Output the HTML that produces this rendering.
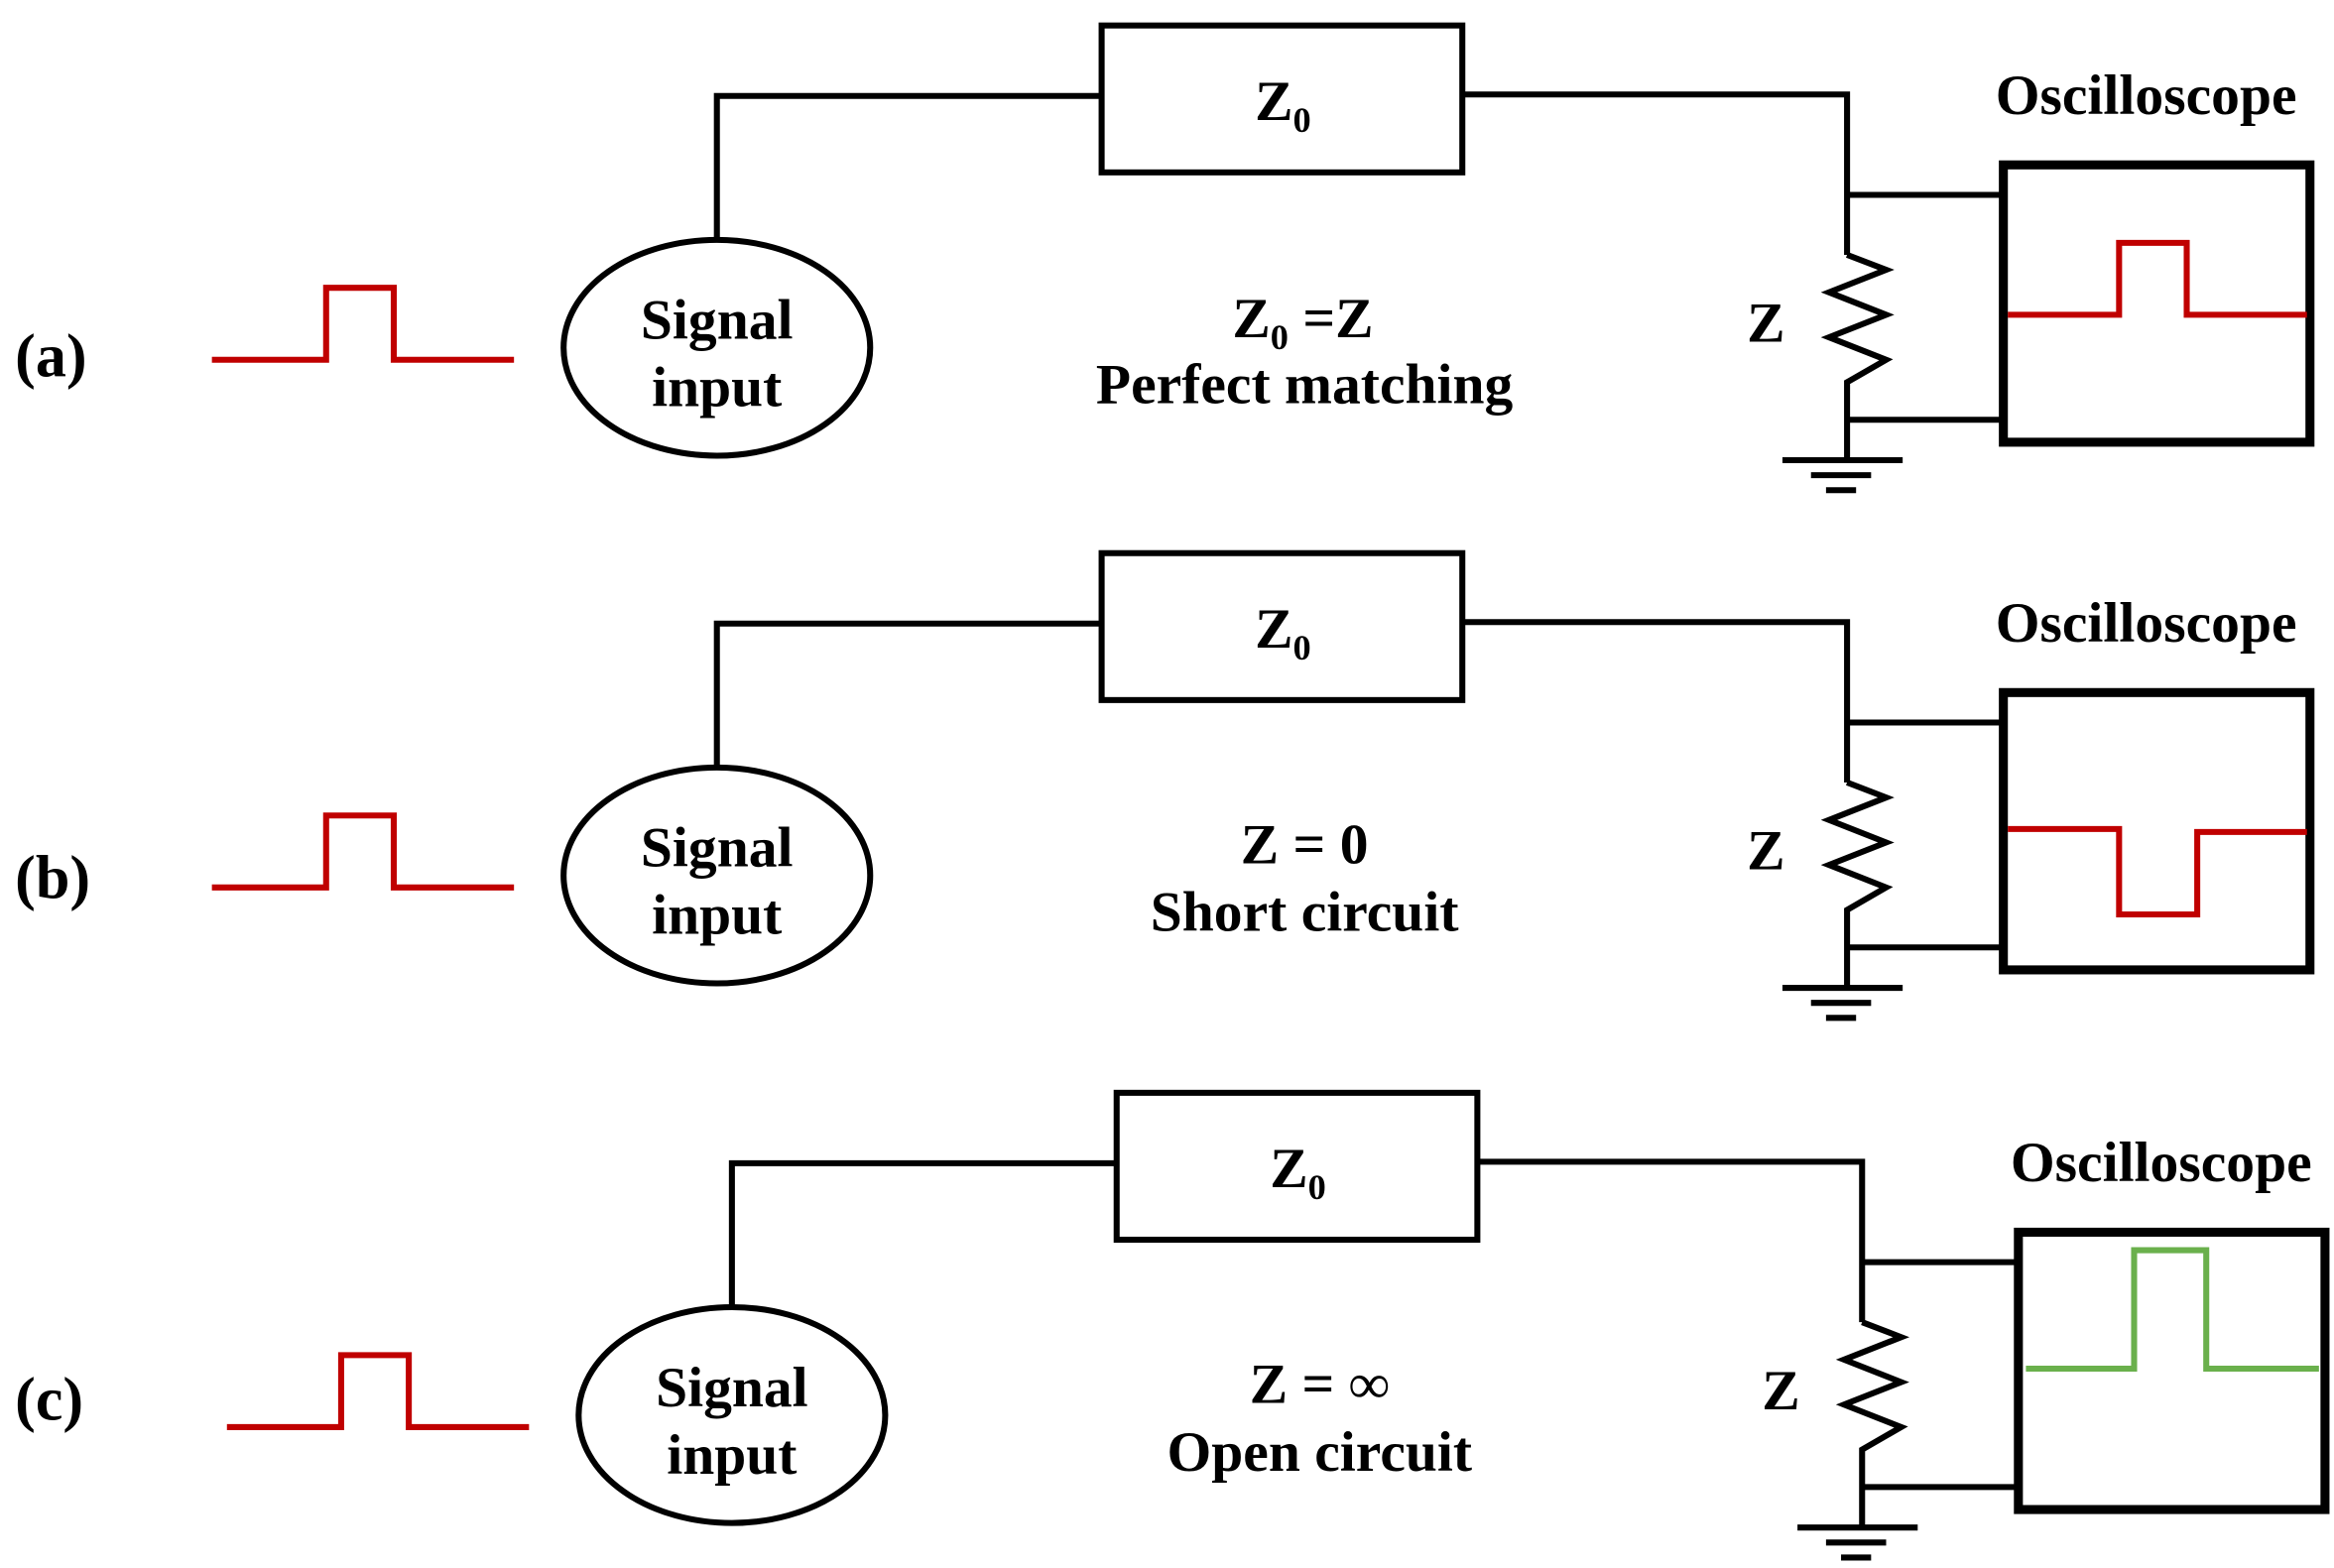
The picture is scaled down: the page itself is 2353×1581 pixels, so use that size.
<!DOCTYPE html>
<html><head><meta charset="utf-8"><style>
html,body{margin:0;padding:0;background:#fff;}
svg{display:block;}
text{font-family:"Liberation Serif",serif;font-weight:bold;fill:#000;}
</style></head><body>
<svg width="2353" height="1581" viewBox="0 0 1553 1046" preserveAspectRatio="none" xmlns="http://www.w3.org/2000/svg">
<defs>
<g id="circ" fill="none" stroke="#000">
  <polyline points="477,160 477,64 733,64" stroke-width="4"/>
  <rect x="733" y="17" width="240" height="98" stroke-width="4"/>
  <polyline points="973,63 1229,63 1229,170" stroke-width="4"/>
  <line x1="1229" y1="130" x2="1333" y2="130" stroke-width="4"/>
  <polyline points="1229,170 1255,180 1217,195 1255,210 1217,225 1255,240 1229,255 1229,307" stroke-width="4"/>
  <line x1="1229" y1="280" x2="1333" y2="280" stroke-width="4"/>
  <line x1="1186" y1="307" x2="1266" y2="307" stroke-width="4"/>
  <line x1="1205" y1="317" x2="1245" y2="317" stroke-width="4"/>
  <line x1="1215" y1="327" x2="1235" y2="327" stroke-width="4"/>
  <ellipse cx="477" cy="232" rx="102" ry="72" stroke-width="4"/>
  <rect x="1333" y="110" width="204" height="185" stroke-width="6"/>
  <polyline points="141,240 217,240 217,192 262,192 262,240 342,240" stroke="#c00000" stroke-width="4"/>
</g>
</defs>

<!-- (a) -->
<use href="#circ"/>
<polyline points="1336,210 1410,210 1410,162 1455,162 1455,210 1535,210" fill="none" stroke="#c00000" stroke-width="4"/>
<text x="10" y="251" font-size="41">(a)</text>
<text x="835" y="80" font-size="38">Z<tspan font-size="24" dy="8">0</tspan></text>
<text x="477" y="226" font-size="38" text-anchor="middle">Signal</text>
<text x="477" y="271" font-size="38" text-anchor="middle">input</text>
<text x="820" y="225" font-size="38">Z<tspan font-size="24" dy="8">0</tspan><tspan dy="-8"> =Z</tspan></text>
<text x="868" y="269" font-size="38" text-anchor="middle">Perfect matching</text>
<text x="1175" y="228" font-size="38" text-anchor="middle">Z</text>
<text x="1428" y="76" font-size="38" text-anchor="middle">Oscilloscope</text>

<!-- (b) -->
<g transform="translate(0,352)"><use href="#circ"/></g>
<polyline points="1336,553 1410,553 1410,610 1462,610 1462,555 1535,555" fill="none" stroke="#c00000" stroke-width="4"/>
<text x="10" y="599" font-size="41">(b)</text>
<text x="835" y="432" font-size="38">Z<tspan font-size="24" dy="8">0</tspan></text>
<text x="477" y="578" font-size="38" text-anchor="middle">Signal</text>
<text x="477" y="623" font-size="38" text-anchor="middle">input</text>
<text x="868" y="576" font-size="38" text-anchor="middle">Z = 0</text>
<text x="868" y="621" font-size="38" text-anchor="middle">Short circuit</text>
<text x="1175" y="580" font-size="38" text-anchor="middle">Z</text>
<text x="1428" y="428" font-size="38" text-anchor="middle">Oscilloscope</text>

<!-- (c) -->
<g transform="translate(10,712)"><use href="#circ"/></g>
<polyline points="1348,913 1420,913 1420,834 1468,834 1468,913 1543,913" fill="none" stroke="#6ab04c" stroke-width="4"/>
<text x="10" y="947" font-size="41">(c)</text>
<text x="845" y="792" font-size="38">Z<tspan font-size="24" dy="8">0</tspan></text>
<text x="487" y="938" font-size="38" text-anchor="middle">Signal</text>
<text x="487" y="983" font-size="38" text-anchor="middle">input</text>
<text x="878" y="936" font-size="38" text-anchor="middle">Z = ∞</text>
<text x="878" y="981" font-size="38" text-anchor="middle">Open circuit</text>
<text x="1185" y="940" font-size="38" text-anchor="middle">Z</text>
<text x="1438" y="788" font-size="38" text-anchor="middle">Oscilloscope</text>
</svg>
</body></html>
